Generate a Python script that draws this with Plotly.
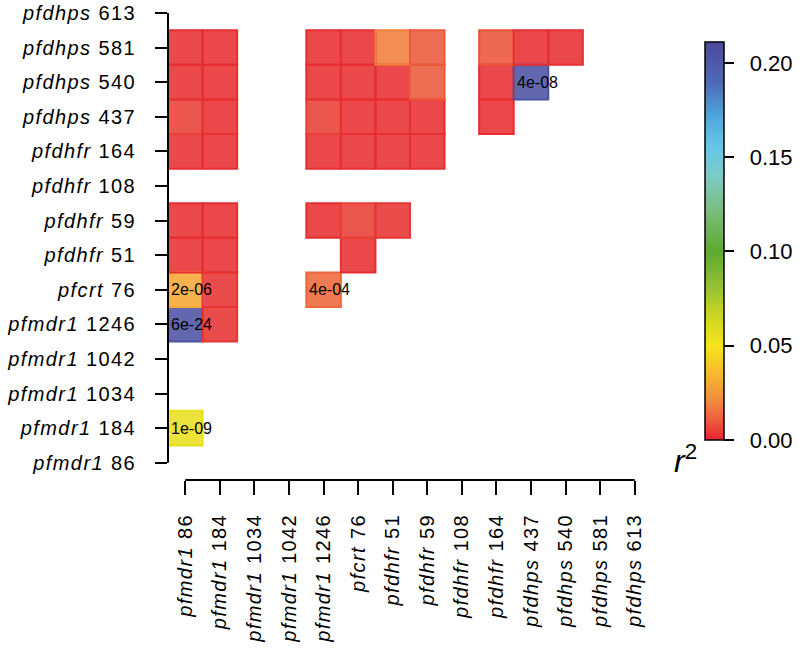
import plotly.graph_objects as go
from plotly.colors import sample_colorscale

# ---- data ----
genes = ["pfmdr1", "pfmdr1", "pfmdr1", "pfmdr1", "pfmdr1", "pfcrt",
         "pfdhfr", "pfdhfr", "pfdhfr", "pfdhfr", "pfdhps", "pfdhps", "pfdhps", "pfdhps"]
positions = ["86", "184", "1034", "1042", "1246", "76",
             "51", "59", "108", "164", "437", "540", "581", "613"]

# pairwise r^2 cells: (column locus index, row locus index, r2)
cell_col = [0,
            0, 1,
            0, 1, 4,
            0, 1, 5,
            0, 1, 4, 5, 6,
            0, 1, 4, 5, 6, 7,
            0, 1, 4, 5, 6, 7, 9,
            0, 1, 4, 5, 6, 7, 9, 10,
            0, 1, 4, 5, 6, 7, 9, 10, 11]
cell_row = [1,
            4, 4,
            5, 5, 5,
            6, 6, 6,
            7, 7, 7, 7, 7,
            9, 9, 9, 9, 9, 9,
            10, 10, 10, 10, 10, 10, 10,
            11, 11, 11, 11, 11, 11, 11, 11,
            12, 12, 12, 12, 12, 12, 12, 12, 12]
cell_r2 = [0.055,
           0.205, 0.003,
           0.030, 0.003, 0.013,
           0.002, 0.002, 0.002,
           0.002, 0.002, 0.002, 0.005, 0.003,
           0.002, 0.002, 0.002, 0.002, 0.002, 0.002,
           0.005, 0.002, 0.005, 0.002, 0.002, 0.002, 0.002,
           0.002, 0.002, 0.002, 0.002, 0.002, 0.010, 0.002, 0.205,
           0.002, 0.002, 0.002, 0.002, 0.018, 0.010, 0.009, 0.002, 0.002]
# p-value labels: (column, row, text)
pval_col = [0, 0, 0, 4, 10]
pval_row = [1, 4, 5, 5, 11]
pval_txt = ["1e-09", "6e-24", "2e-06", "4e-04", "4e-08"]

cb_ticks = [0.0, 0.05, 0.10, 0.15, 0.20]
cb_ticktext = ["0.00", "0.05", "0.10", "0.15", "0.20"]
zmax = 0.211

# ---- styling ----
FONT = "Liberation Sans, Arial, sans-serif"
colorscale = [
    [0.0, "#E62430"],
    [0.047, "#EC5A3C"],
    [0.095, "#F2883C"],
    [0.166, "#F7B830"],
    [0.237, "#F6E41C"],
    [0.31, "#CDD624"],
    [0.38, "#98C232"],
    [0.474, "#5DAA2E"],
    [0.57, "#78BC78"],
    [0.66, "#7CCAC4"],
    [0.735, "#66C8E8"],
    [0.81, "#4EA8DE"],
    [0.9, "#4E68B8"],
    [1.0, "#4C4A9A"],
]

n = len(positions)
labels = [f"<i>{g}</i> {p}" for g, p in zip(genes, positions)]

z = [[None] * n for _ in range(n)]
for c, r, v in zip(cell_col, cell_row, cell_r2):
    z[r][c] = v

fig = go.Figure()
fig.add_trace(go.Heatmap(
    z=z, x=list(range(n)), y=list(range(n)),
    zmin=0, zmax=zmax, colorscale=colorscale, opacity=0.88,
    hoverinfo="skip",
    colorbar=dict(
        x=1.11, xanchor="left", xpad=0,
        y=0.503, yanchor="middle", ypad=0,
        len=0.837, lenmode="fraction", thickness=19,
        outlinewidth=1.5, outlinecolor="black",
        tickvals=cb_ticks, ticktext=["\u2002" + t for t in cb_ticktext],
        ticks="outside", ticklen=10, tickwidth=2, tickcolor="black",
        tickfont=dict(family=FONT, size=22, color="black"),
    ),
))

# cell borders
border_cols = sample_colorscale(colorscale, [v / zmax for v in cell_r2])
for c, r, col in zip(cell_col, cell_row, border_cols):
    fig.add_shape(type="rect", xref="x", yref="y",
                  x0=c - 0.5, x1=c + 0.5, y0=r - 0.5, y1=r + 0.5,
                  line=dict(color=col, width=2), fillcolor="rgba(0,0,0,0)",
                  layer="above")

# p-value annotations
for c, r, t in zip(pval_col, pval_row, pval_txt):
    fig.add_annotation(x=c - 0.5, y=r, text=t, xref="x", yref="y",
                       xanchor="left", yanchor="middle", xshift=1, showarrow=False,
                       font=dict(family=FONT, size=16, color="black"))

# axis lines spanning only first to last tick (R style)
fig.add_shape(type="line", xref="paper", yref="y", x0=0, x1=0, y0=0, y1=n - 1,
              line=dict(color="black", width=2))
fig.add_shape(type="line", xref="x", yref="paper", x0=0, x1=n - 1, y0=0, y1=0,
              line=dict(color="black", width=2))

# r^2 title
fig.add_annotation(x=1.07, y=0.045, xref="paper", yref="paper", text="<i>r</i><sup>2</sup>",
                   showarrow=False, xanchor="center", yanchor="middle",
                   font=dict(family=FONT, size=32, color="black"))

fig.update_xaxes(range=[-0.5, n - 0.5], tickvals=list(range(n)), ticktext=labels,
                 tickangle=-90, ticks="outside", ticklen=14, tickwidth=2, tickcolor="black",
                 showline=False, showgrid=False, zeroline=False, ticklabelstandoff=11,
                 automargin=False,
                 tickfont=dict(family=FONT, size=20, color="black"))
fig.update_yaxes(range=[-0.5, 13.23], tickvals=list(range(n)), ticktext=labels,
                 ticks="outside", ticklen=12, tickwidth=2, tickcolor="black",
                 showline=False, showgrid=False, zeroline=False, ticklabelstandoff=15,
                 automargin=False,
                 tickfont=dict(family=FONT, size=20, color="black"))

fig.update_layout(
    width=799, height=653,
    margin=dict(l=168, r=147, t=5, b=173, autoexpand=False),
    plot_bgcolor="white", paper_bgcolor="white",
    showlegend=False,
)

css = ("body { margin: 0; overflow: hidden; } "
       ".xtick text, .ytick text { letter-spacing: 1.4px; }")
post = ("var s=document.createElement('style');s.textContent=" + repr(css) +
        ";document.head.appendChild(s);")

fig.write_html("out.html", post_script=post, config={"displayModeBar": False})
